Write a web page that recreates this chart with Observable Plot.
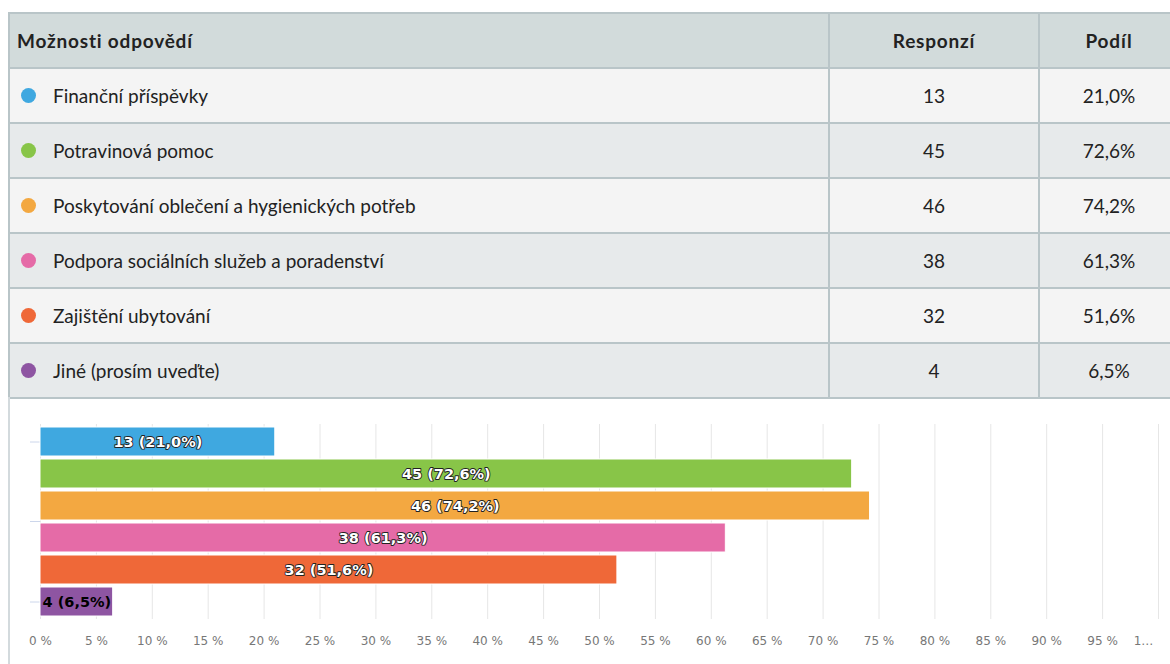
<!DOCTYPE html>
<html>
<head>
<meta charset="utf-8">
<script src="https://cdn.jsdelivr.net/npm/d3@7"></script>
<script src="https://cdn.jsdelivr.net/npm/@observablehq/plot@0.6"></script>
<style>
  html, body { margin: 0; padding: 0; background: #fff; }
  body { width: 1170px; height: 664px; overflow: hidden; position: relative; font-family: Lato, sans-serif; }
  #tbl { position: absolute; left: 8px; top: 12px; width: 1172px; border-top: 2px solid #b9c5c8; border-left: 2px solid #b9c5c8; box-sizing: border-box; }
  .row { display: grid; grid-template-columns: 820px 210px 140px; height: 55px; box-sizing: border-box; border-bottom: 2px solid #b9c5c8; }
  .row > div { border-right: 2px solid #b9c5c8; display: flex; align-items: center; font-size: 19px; color: #222; box-sizing: border-box; }
  .head { background: #d2dbdb; font-weight: bold; }
  .head > div { letter-spacing: 0.8px; }
  .odd { background: #f4f4f4; }
  .even { background: #e7eaeb; }
  .c1 { padding-left: 7px; }
  .num { justify-content: center; }
  .dot { width: 15px; height: 15px; border-radius: 50%; margin-left: 11px; margin-right: 17px; flex: none; }
  #chartborder { position: absolute; left: 8px; top: 397px; width: 2px; height: 267px; background: #d3dadd; }
  #chart { position: absolute; left: 0; top: 397px; }
</style>
</head>
<body>
<div id="tbl"></div>
<div id="chartborder"></div>
<div id="chart"></div>
<script>
const headers = ["Možnosti odpovědí", "Responzí", "Podíl"];
const categories = [
  "Finanční příspěvky",
  "Potravinová pomoc",
  "Poskytování oblečení a hygienických potřeb",
  "Podpora sociálních služeb a poradenství",
  "Zajištění ubytování",
  "Jiné (prosím uveďte)"
];
const responses = [13, 45, 46, 38, 32, 4];
const shares = [21.0, 72.6, 74.2, 61.3, 51.6, 6.5];
const colors = ["#3fa8e0", "#88c548", "#f3a841", "#e56ba7", "#ef6838", "#8e55a2"];
const xTicks = [0, 5, 10, 15, 20, 25, 30, 35, 40, 45, 50, 55, 60, 65, 70, 75, 80, 85, 90, 95, 100];
const xTickLabels = ["0 %", "5 %", "10 %", "15 %", "20 %", "25 %", "30 %", "35 %", "40 %", "45 %", "50 %", "55 %", "60 %", "65 %", "70 %", "75 %", "80 %", "85 %", "90 %", "95 %", "1…"];

const fmt = v => v.toFixed(1).replace(".", ",");
const data = categories.map((c, i) => ({cat: c, resp: responses[i], share: shares[i], color: colors[i]}));

// table
const tbl = document.getElementById("tbl");
function cell(cls, content) {
  const d = document.createElement("div");
  d.className = cls;
  if (typeof content === "string") d.textContent = content; else d.appendChild(content);
  return d;
}
const head = document.createElement("div");
head.className = "row head";
head.appendChild(cell("c1", headers[0]));
head.appendChild(cell("num", headers[1]));
head.appendChild(cell("num", headers[2]));
tbl.appendChild(head);
data.forEach((d, i) => {
  const r = document.createElement("div");
  r.className = "row " + (i % 2 === 0 ? "odd" : "even");
  const c1 = document.createElement("div");
  const dot = document.createElement("span");
  dot.className = "dot";
  dot.style.background = d.color;
  c1.appendChild(dot);
  c1.appendChild(document.createTextNode(d.cat));
  r.appendChild(c1);
  r.appendChild(cell("num", String(d.resp)));
  r.appendChild(cell("num", fmt(d.share) + "%"));
  tbl.appendChild(r);
});

// chart
const tickLabel = new Map(xTicks.map((t, i) => [t, xTickLabels[i]]));
const lastTick = xTicks[xTicks.length - 1];
const chart = Plot.plot({
  width: 1170,
  height: 267,
  marginLeft: 40,
  marginRight: 12,
  marginTop: 27,
  marginBottom: 45,
  style: {fontFamily: "DejaVu Sans, sans-serif", background: "transparent"},
  x: {domain: [0, 100]},
  y: {domain: categories, paddingInner: 0.0909, paddingOuter: 0},
  color: {domain: categories, range: colors},
  marks: [
    Plot.gridX(xTicks, {stroke: "#e6e6e6", strokeOpacity: 1}),
    Plot.axisY([categories[0], categories[5]], {tickSize: 10, tickFormat: () => "", stroke: "#ccd6eb", label: null}),
    Plot.axisY([categories[3]], {tickSize: 10, tickFormat: () => "", stroke: "#ccd6eb", dy: -16.5, label: null}),
    Plot.barX(data, {y: "cat", x: "share", fill: "cat", stroke: "white", strokeWidth: 1}),
    Plot.text(data, {
      y: "cat",
      x: d => d.share / 2,
      text: d => `${d.resp} (${fmt(d.share)}%)`,
      fill: d => d.share < 10 ? "#000" : "#fff",
      stroke: d => d.share < 10 ? "none" : "#222",
      strokeWidth: 1.8,
      paintOrder: "stroke",
      fontWeight: "bold",
      fontSize: 14.5
    }),
    Plot.axisX(xTicks.filter(t => t !== lastTick), {tickSize: 0, tickPadding: 17, tickFormat: d => tickLabel.get(d), fill: "#777", fontSize: 12, label: null}),
    Plot.axisX([lastTick], {tickSize: 0, tickPadding: 17, tickFormat: d => tickLabel.get(d), fill: "#777", fontSize: 12, dx: -15, label: null})
  ]
});
document.getElementById("chart").appendChild(chart);
</script>
</body>
</html>
